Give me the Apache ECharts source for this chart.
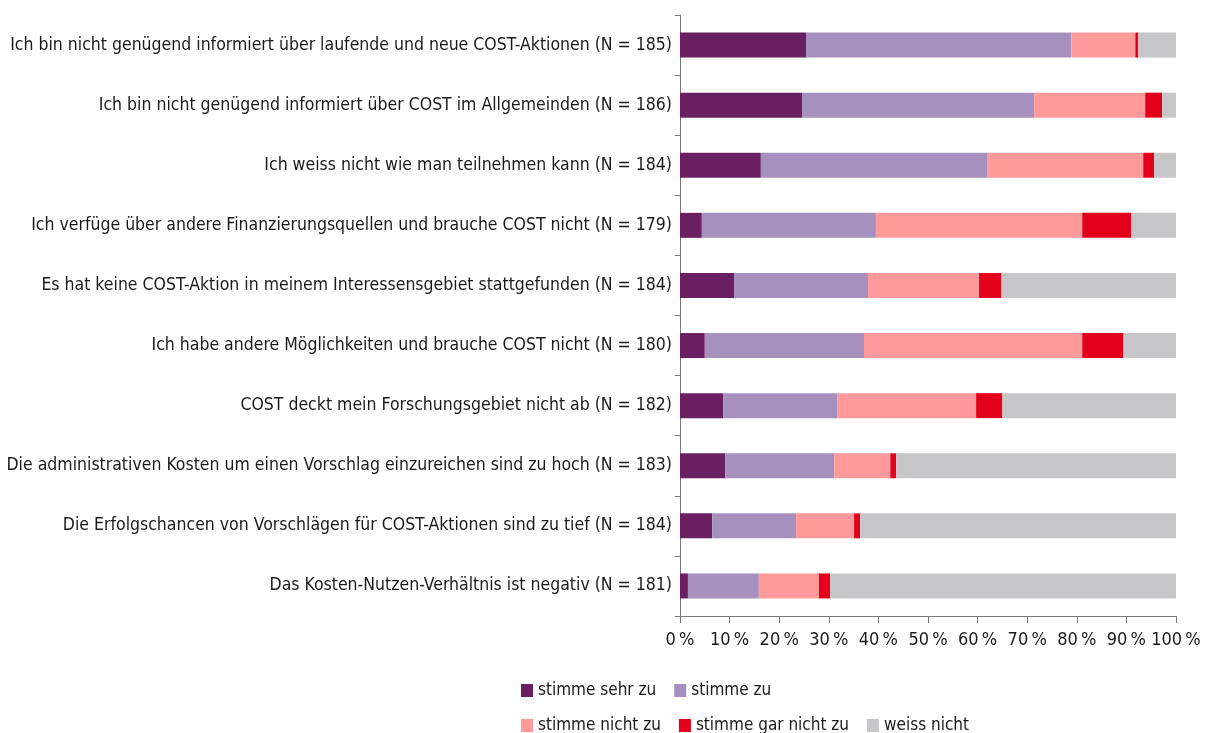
<!DOCTYPE html>
<html>
<head>
<meta charset="utf-8">
<script src="https://cdn.jsdelivr.net/npm/echarts@6/dist/echarts.min.js"></script>
<style>
  html, body { margin: 0; padding: 0; background: #fff; }
  #chart { width: 1206px; height: 733px; }
</style>
</head>
<body>
<div id="chart"></div>
<script>
// Gründe gegen eine Teilnahme an COST — Anteile in %
var categories = [
  'Ich bin nicht genügend informiert über laufende und neue COST-Aktionen (N = 185)',
  'Ich bin nicht genügend informiert über COST im Allgemeinden (N = 186)',
  'Ich weiss nicht wie man teilnehmen kann (N = 184)',
  'Ich verfüge über andere Finanzierungsquellen und brauche COST nicht (N = 179)',
  'Es hat keine COST-Aktion in meinem Interessensgebiet stattgefunden (N = 184)',
  'Ich habe andere Möglichkeiten und brauche COST nicht (N = 180)',
  'COST deckt mein Forschungsgebiet nicht ab (N = 182)',
  'Die administrativen Kosten um einen Vorschlag einzureichen sind zu hoch (N = 183)',
  'Die Erfolgschancen von Vorschlägen für COST-Aktionen sind zu tief (N = 184)',
  'Das Kosten-Nutzen-Verhältnis ist negativ (N = 181)'
];
var seriesNames = ['stimme sehr zu', 'stimme zu', 'stimme nicht zu', 'stimme gar nicht zu', 'weiss nicht'];
var sehrZu     = [25.4, 24.6, 16.3,  4.4, 10.9,  5.0,  8.7,  9.1,  6.5,  1.6];
var zu         = [53.5, 46.8, 45.6, 35.1, 27.0, 32.1, 23.0, 22.0, 16.9, 14.3];
var nichtZu    = [12.9, 22.4, 31.5, 41.6, 22.4, 44.0, 28.0, 11.3, 11.7, 12.1];
var garNichtZu = [ 0.6,  3.4,  2.2,  9.9,  4.5,  8.3,  5.3,  1.2,  1.2,  2.3];
var weissNicht = [ 7.6,  2.8,  4.4,  9.0, 35.2, 10.6, 35.0, 56.4, 63.7, 69.7];
var xTicks = [0, 10, 20, 30, 40, 50, 60, 70, 80, 90, 100];

(function() {
  var font = '"Liberation Sans Narrow", "DejaVu Sans Condensed", sans-serif';
  var ink = '#1a1a1a';
  var axisGray = '#7a7a7a';
  var colors = ['#6a1f62', '#a690be', '#ff999a', '#e2001a', '#c6c6c8'];
  var values = [sehrZu, zu, nichtZu, garNichtZu, weissNicht];

  var chart = echarts.init(document.getElementById('chart'), null, { renderer: 'canvas' });

  var series = seriesNames.map(function(name, i) {
    return {
      name: name,
      type: 'bar',
      stack: 'total',
      barWidth: 25,
      data: values[i],
      itemStyle: { color: colors[i] }
    };
  });

  var legendText = { color: ink, fontSize: 17, fontFamily: font };

  chart.setOption({
    animation: false,
    color: colors,
    grid: { left: 680, right: 30, top: 15, bottom: 117 },
    legend: [
      {
        data: seriesNames.slice(0, 2),
        left: 521, top: 682, padding: 0,
        icon: 'rect', itemWidth: 12, itemHeight: 13, itemGap: 18,
        textStyle: legendText
      },
      {
        data: seriesNames.slice(2),
        left: 521, top: 717, padding: 0,
        icon: 'rect', itemWidth: 12, itemHeight: 13, itemGap: 18,
        textStyle: legendText
      }
    ],
    xAxis: {
      type: 'value',
      min: 0, max: 100, interval: 10,
      axisLine: { show: true, lineStyle: { color: axisGray } },
      axisTick: { show: true, length: 7, lineStyle: { color: axisGray } },
      splitLine: { show: false },
      axisLabel: {
        color: ink, fontSize: 18, fontFamily: font, margin: 15,
        formatter: function(v) { return xTicks.indexOf(v) >= 0 ? v + '\u2009%' : ''; }
      }
    },
    yAxis: {
      type: 'category',
      inverse: true,
      data: categories,
      axisLine: { show: true, lineStyle: { color: axisGray } },
      axisTick: { show: true, length: 5, lineStyle: { color: axisGray } },
      axisLabel: { color: ink, fontSize: 17.5, fontFamily: font, margin: 8 }
    },
    series: series
  });

  window.addEventListener('resize', function() { chart.resize(); });
})();
</script>
</body>
</html>
